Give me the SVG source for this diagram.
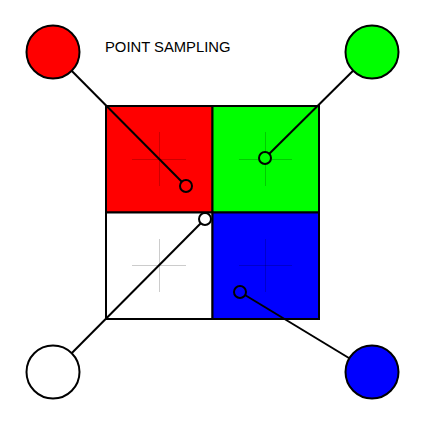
<svg xmlns="http://www.w3.org/2000/svg" width="426" height="426" viewBox="0 0 426 426">
<style>
.cell{stroke:#000;stroke-width:2}
.cross{stroke:#000;stroke-opacity:0.2;stroke-width:1;fill:none}
.big{stroke:#000;stroke-width:2}
.smp{stroke:#000;stroke-width:2}
.conn{stroke:#000;stroke-width:2;fill:none}
text{font-family:"Liberation Sans",Arial,sans-serif;font-size:14.8px;fill:#000}
</style>
<rect width="426" height="426" fill="#fff"/>
<text x="105" y="52">POINT SAMPLING</text>
<g id="grid">
<rect class="cell" x="106" y="106" width="106.5" height="106.5" fill="#f00"/>
<rect class="cell" x="212.5" y="106" width="106.5" height="106.5" fill="#0f0"/>
<rect class="cell" x="106" y="212.5" width="106.5" height="106.5" fill="#fff"/>
<rect class="cell" x="212.5" y="212.5" width="106.5" height="106.5" fill="#00f"/>
<path class="cross" d="M132 159.5H186M159.5 132V186M239 159.5H292M265.5 132V186M132 265.5H186M159.5 239V292M239 265.5H292M265.5 239V292"/>
</g>
<g id="connectors">
<line class="conn" x1="53" y1="52" x2="186" y2="186"/>
<line class="conn" x1="372" y1="52" x2="265" y2="158"/>
<line class="conn" x1="53" y1="372" x2="205" y2="219"/>
<line class="conn" x1="372" y1="372" x2="240" y2="292"/>
</g>
<g id="samples">
<circle class="smp" cx="186" cy="186" r="6" fill="#f00"/>
<circle class="smp" cx="265" cy="158" r="6" fill="#0f0"/>
<circle class="smp" cx="205" cy="219" r="6" fill="#fff"/>
<circle class="smp" cx="240" cy="292" r="6" fill="#00f"/>
</g>
<g id="red"><circle class="big" cx="53" cy="52" r="26.5" fill="#f00"/></g>
<g id="green"><circle class="big" cx="372" cy="52" r="26.5" fill="#0f0"/></g>
<g id="white"><circle class="big" cx="53" cy="372" r="26.5" fill="#fff"/></g>
<g id="blue"><circle class="big" cx="372" cy="372" r="26.5" fill="#00f"/></g>
</svg>
